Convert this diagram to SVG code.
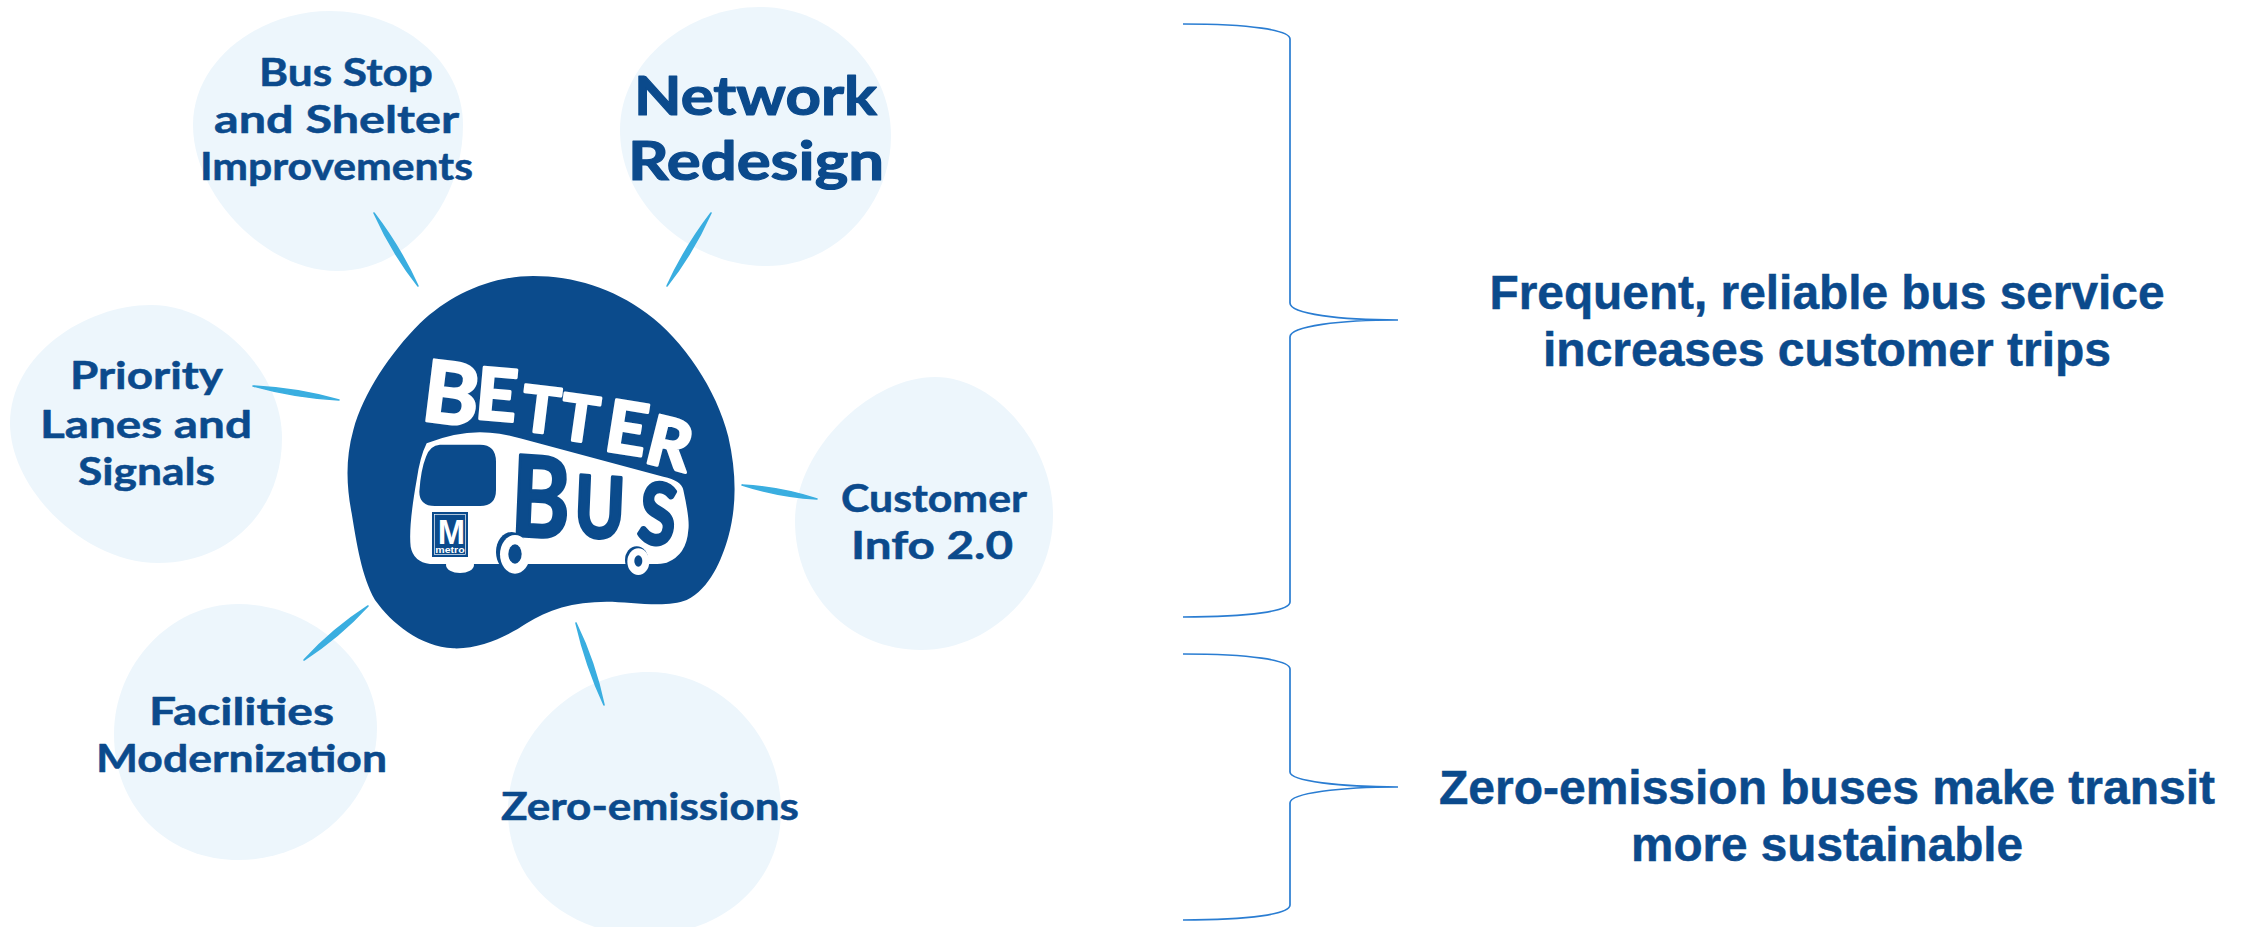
<svg xmlns="http://www.w3.org/2000/svg" width="2244" height="927" viewBox="0 0 2244 927">
<style>
.bubble{fill:#edf6fc}
.lbl{font-family:"Lato","Noto Sans",sans-serif;font-weight:700;font-size:38px;fill:#0b4a8c;stroke:#0b4a8c;stroke-width:.5px;stroke-linejoin:round;text-anchor:start}
.big{font-size:54px;stroke-width:1.2px}
.hd{font-family:"Liberation Sans",Arial,sans-serif;font-weight:700;font-size:48px;fill:#0b4a8c;stroke:#0b4a8c;stroke-width:.5px;text-anchor:middle}
.ray{fill:#3aaee0;stroke:#3aaee0;stroke-width:1.6;stroke-linejoin:round}
.brace{fill:none;stroke:#2a7dd2;stroke-width:1.7}
.lw{font-family:"Lato","Noto Sans",sans-serif;font-weight:700;fill:#fff;stroke:#fff;stroke-width:9;stroke-linejoin:round}
.lb{font-family:"Lato","Noto Sans",sans-serif;font-weight:700;fill:#0b4b8c;stroke:#0b4b8c;stroke-width:10;stroke-linejoin:round}
</style>
<rect width="2244" height="927" fill="#fff"/>
<g id="node-bus-stop">
<path class="bubble" d="M330 11C400 11 463 60 463 125C463 200 410 271 337 271C265 271 193 195 193 125C193 60 260 11 330 11Z"/>
<text class="lbl" x="259" y="86" textLength="174" lengthAdjust="spacingAndGlyphs">Bus Stop</text>
<text class="lbl" x="214" y="133" textLength="245" lengthAdjust="spacingAndGlyphs">and Shelter</text>
<text class="lbl" x="200" y="180" textLength="273" lengthAdjust="spacingAndGlyphs">Improvements</text>
</g>
<g id="node-network">
<path class="bubble" d="M760 7C830 7 891 65 891 136C891 205 835 266 767 266C690 266 620 205 620 130C620 60 690 7 760 7Z"/>
<text class="lbl big" x="634" y="115" textLength="243" lengthAdjust="spacingAndGlyphs">Network</text>
<text class="lbl big" x="628" y="180" textLength="256" lengthAdjust="spacingAndGlyphs">Redesign</text>
</g>
<g id="node-priority">
<path class="bubble" d="M151 305C215 305 282 370 282 438C282 510 230 563 158 563C85 563 10 490 10 423C10 355 85 305 151 305Z"/>
<text class="lbl" x="70" y="389" textLength="153" lengthAdjust="spacingAndGlyphs">Priority</text>
<text class="lbl" x="40" y="438" textLength="212" lengthAdjust="spacingAndGlyphs">Lanes and</text>
<text class="lbl" x="78" y="485" textLength="137" lengthAdjust="spacingAndGlyphs">Signals</text>
</g>
<g id="node-customer">
<path class="bubble" d="M935 377C995 377 1053 445 1053 515C1053 590 990 650 921 650C850 650 795 595 795 521C795 450 870 377 935 377Z"/>
<text class="lbl" x="841" y="512" textLength="186" lengthAdjust="spacingAndGlyphs">Customer</text>
<text class="lbl" x="851" y="559" textLength="162" lengthAdjust="spacingAndGlyphs">Info 2.0</text>
</g>
<g id="node-facilities">
<path class="bubble" d="M238 604C310 604 377 660 377 728C377 800 315 860 238 860C170 860 114 810 114 734C114 665 170 604 238 604Z"/>
<text class="lbl" x="149" y="725" textLength="185" lengthAdjust="spacingAndGlyphs">Facilities</text>
<text class="lbl" x="96" y="772" textLength="291" lengthAdjust="spacingAndGlyphs">Modernization</text>
</g>
<g id="node-zero">
<path class="bubble" d="M648 672C720 672 781 735 781 811C781 885 720 935 645 935C570 935 508 885 508 811C508 735 575 672 648 672Z"/>
<text class="lbl" x="501" y="820" textLength="298" lengthAdjust="spacingAndGlyphs">Zero-emissions</text>
</g>
<g id="connectors">
<path class="ray" d="M374 213Q400 247 418 286Q392 253 374 213Z"/>
<path class="ray" d="M711 213Q693 253 667 286Q685 247 711 213Z"/>
<path class="ray" d="M253 386Q295.200 397.900 339 400Q296.800 388.100 253 386Z"/>
<path class="ray" d="M742 485Q778.500 496.900 817 499Q780.500 487.100 742 485Z"/>
<path class="ray" d="M368 606Q339.500 637 304 660Q332.500 629 368 606Z"/>
<path class="ray" d="M576 623Q595 662 604 705Q586 666 576 623Z"/>
<path class="brace" d="M1183 24C1250 24 1290 30 1290 39V303C1290 314 1340 320 1398 320C1340 320 1290 326 1290 337V602C1290 611 1250 617 1183 617"/>
<path class="brace" d="M1183 654C1250 654 1290 660 1290 669V772C1290 781 1340 787 1398 787C1340 787 1290 793 1290 803V905C1290 914 1250 920 1183 920"/>
</g>
<g id="node-better-bus" transform="translate(320 260) scale(.33333)">
<path fill="#0b4b8c" d="M640 48C760 48 880 85 980 160C1090 240 1190 390 1225 530C1250 640 1250 740 1225 830C1205 900 1170 985 1100 1020C1040 1045 930 1025 860 1025C760 1025 680 1050 620 1090C560 1130 480 1168 400 1165C300 1160 215 1090 165 1020C125 950 110 850 95 760C80 680 75 600 100 510C130 400 210 280 300 190C390 105 510 48 640 48Z"/>
<text class="lw"><tspan x="300" y="480" font-size="255" rotate="7">B</tspan><tspan x="462" y="475" font-size="215" rotate="5">E</tspan><tspan x="598" y="510" font-size="190" rotate="7">T</tspan><tspan x="713" y="535" font-size="190" rotate="8">T</tspan><tspan x="848" y="570" font-size="215" rotate="9">E</tspan><tspan x="968" y="605" font-size="205" rotate="14">R</tspan></text>
<ellipse cx="420" cy="915" rx="42" ry="24" fill="#fff"/>
<path fill="#fff" d="M320 550Q420 510 510 518Q550 520 600 535L1030 650Q1085 662 1090 690Q1110 780 1105 810Q1100 885 1040 908Q1025 912 1000 912L330 912Q280 905 272 860Q265 800 290 660Q300 590 320 550Z"/>
<path fill="#0b4b8c" d="M360 554H480Q528 554 528 605V690Q528 738 480 738H345Q298 738 298 695Q302 630 318 590Q330 556 360 554Z"/>
<rect x="336" y="756" width="108" height="135" fill="#0b4b8c"/>
<rect x="343" y="763" width="94" height="121" fill="none" stroke="#fff" stroke-width="2"/>
<text x="394" y="853" text-anchor="middle" font-family="Liberation Sans,Arial,sans-serif" font-weight="700" font-size="108" fill="#fff" textLength="82" lengthAdjust="spacingAndGlyphs">M</text>
<text x="390" y="880" text-anchor="middle" font-family="Liberation Sans,Arial,sans-serif" font-weight="700" font-size="28" fill="#fff" textLength="88" lengthAdjust="spacingAndGlyphs">metro</text>
<text class="lb" transform="scale(.8 1)"><tspan x="712" y="825" font-size="335" rotate="3">B</tspan><tspan x="950" y="828" font-size="255" rotate="3">U</tspan><tspan x="1185" y="842" font-size="255" rotate="8">S</tspan></text>
<ellipse cx="575" cy="876" rx="47" ry="60" fill="#0b4b8c"/>
<ellipse cx="585" cy="883" rx="45" ry="58" fill="#fff"/>
<ellipse cx="585" cy="882" rx="20" ry="29" fill="#0b4b8c"/>
<ellipse cx="950" cy="900" rx="35" ry="41" fill="#0b4b8c"/>
<ellipse cx="955" cy="905" rx="33" ry="40" fill="#fff"/>
<ellipse cx="955" cy="903" rx="12" ry="17" fill="#0b4b8c"/>
</g>
<g id="node-service">
<text class="hd" x="1827" y="309" textLength="675" lengthAdjust="spacingAndGlyphs">Frequent, reliable bus service</text>
<text class="hd" x="1827" y="366" textLength="568" lengthAdjust="spacingAndGlyphs">increases customer trips</text>
</g>
<g id="node-emission">
<text class="hd" x="1827" y="804" textLength="776" lengthAdjust="spacingAndGlyphs">Zero-emission buses make transit</text>
<text class="hd" x="1827" y="861" textLength="392" lengthAdjust="spacingAndGlyphs">more sustainable</text>
</g>
</svg>
